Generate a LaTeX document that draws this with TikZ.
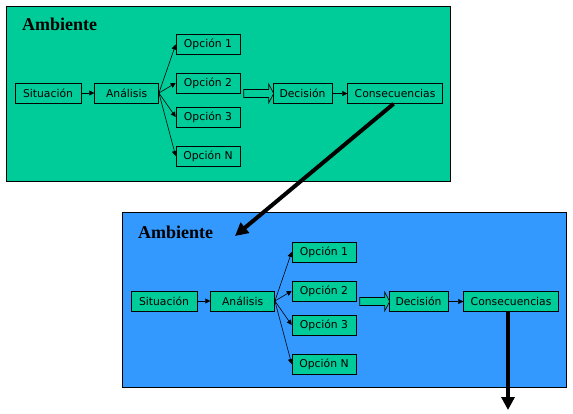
\documentclass[tikz,border=0pt]{standalone}
\usepackage{fontspec}
\setmainfont{DejaVu Sans}
\newfontfamily\titlefont{Liberation Serif}
\usetikzlibrary{arrows.meta, positioning}
\definecolor{ambgreen}{HTML}{00CC99}
\definecolor{ambblue}{HTML}{3399FF}
\tikzset{
  % Ambient panels
  panel/.style={
    rectangle, draw=black, fill=#1, line width=0.8pt, inner sep=0pt,
    minimum width=444pt, minimum height=175pt, anchor=north west,
  },
  panel/.default={ambgreen},
  paneltitle/.style={anchor=base west, inner sep=0pt, font=\titlefont\bfseries\fontsize{18}{20}\selectfont},
  % Steps of the process
  stepbox/.style={
    rectangle, draw=black, fill=ambgreen, minimum width=#1, minimum height=20pt,
    inner sep=0pt, line width=0.6pt, font=\fontsize{10.8}{12}\selectfont,
  },
  stepbox/.default={64pt},
  % Arrows
  smallarrow/.style={-{Triangle[length=5pt, width=5pt]}, line width=0.6pt},
  bigarrow/.style={-{Triangle[length=13pt, width=13pt]}, line width=4pt},
  blockarrow/.style={draw=black, fill=ambgreen, line width=0.6pt, line join=miter},
}
% hollow block arrow ending with its tip at #1
\newcommand{\blockarrow}[1]{
  \draw[blockarrow] (#1) -- ++(-5,-9.5) -- ++(0,5.5) -- ++(-25,0)
    -- ++(0,8) -- ++(25,0) -- ++(0,5.5) -- cycle;
}
\begin{document}
\begin{tikzpicture}[x=1pt, y=-1pt]
  \useasboundingbox (0,0) rectangle (573,414);

  % First ambient
  \node[panel=ambgreen] (amb1) at (6,6) {};
  \node[paneltitle] (tit1) at (22,31) {Ambiente};
  \node[stepbox=66pt] (sit1) at (48,93) {Situación};
  \node[stepbox, right=13pt of sit1] (ana1) {Análisis};
  \node[stepbox] (opa1) at (208,44.5) {Opción 1};
  \node[stepbox] (opb1) at (208,83) {Opción 2};
  \node[stepbox] (opc1) at (208,117) {Opción 3};
  \node[stepbox] (opn1) at (208,156) {Opción N};
  \node[stepbox=59pt] (dec1) at (302.5,93.5) {Decisión};
  \node[stepbox=95pt, right=15pt of dec1] (con1) {Consecuencias};
  \coordinate (paso1) at ([xshift=1pt]dec1.west);
  \blockarrow{paso1}

  \draw[smallarrow] (sit1) -- (ana1);
  \foreach \op in {opa1, opb1, opc1, opn1}
    \draw[smallarrow] (ana1.east) -- (\op.west);
  \draw[smallarrow] (dec1) -- (con1);

  % Second ambient
  \node[panel=ambblue] (amb2) at (122,212) {};
  \node[paneltitle] (tit2) at (138,239) {Ambiente};
  \node[stepbox=66pt] (sit2) at (164,301) {Situación};
  \node[stepbox, right=13pt of sit2] (ana2) {Análisis};
  \node[stepbox] (opa2) at (324,252) {Opción 1};
  \node[stepbox] (opb2) at (324,291) {Opción 2};
  \node[stepbox] (opc2) at (324,325) {Opción 3};
  \node[stepbox] (opn2) at (324,364) {Opción N};
  \node[stepbox=59pt] (dec2) at (418.5,301.5) {Decisión};
  \node[stepbox=95pt, right=15pt of dec2] (con2) {Consecuencias};
  \coordinate (paso2) at ([xshift=1pt]dec2.west);
  \blockarrow{paso2}

  \draw[smallarrow] (sit2) -- (ana2);
  \foreach \op in {opa2, opb2, opc2, opn2}
    \draw[smallarrow] (ana2.east) -- (\op.west);
  \draw[smallarrow] (dec2) -- (con2);

  % Links between ambients
  \coordinate (llegada) at (235,236);
  \coordinate (salida) at (508,410);
  \draw[bigarrow] ([xshift=-1.5pt]con1.south) -- (llegada);
  \draw[bigarrow] (con2.south -| salida) -- (salida);
\end{tikzpicture}
\end{document}
